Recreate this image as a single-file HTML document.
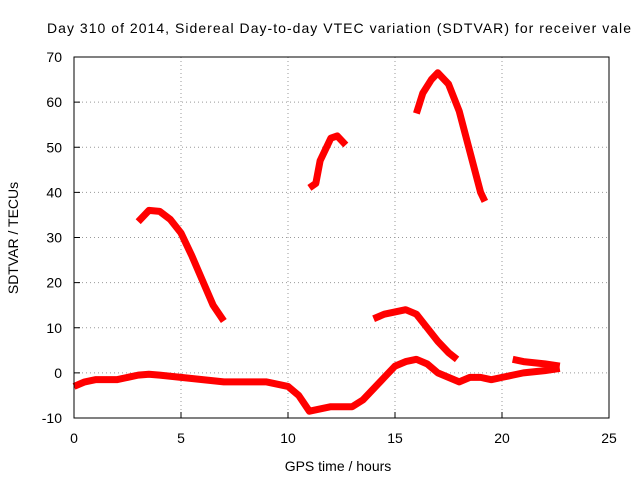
<!DOCTYPE html>
<html><head><meta charset="utf-8"><style>
body{margin:0;background:#fff}
svg{display:block;font-family:"Liberation Sans",sans-serif}
</style></head><body>
<svg id="chart" width="640" height="480">
<text x="47" y="33" font-size="14" textLength="584" lengthAdjust="spacing">Day 310 of 2014, Sidereal Day-to-day VTEC variation (SDTVAR) for receiver vale</text>
<text x="338" y="471" font-size="14" text-anchor="middle">GPS time / hours</text>
<text transform="translate(18,238) rotate(-90)" font-size="14" text-anchor="middle">SDTVAR / TECUs</text>
<g id="grid"></g><g id="series"></g>
<rect x="74" y="57" width="535" height="361" fill="none" stroke="#000" stroke-width="1"/>
</svg>
<script>
const xTicks=[0,5,10,15,20,25];
const yTicks=[-10,0,10,20,30,40,50,60,70];
const seg1x=[3,3.5,4,4.5,5,5.5,6,6.5,7];
const seg1y=[33.5,36,35.8,34,31,26,20.5,15,11.5];
const seg2x=[11,11.3,11.5,12,12.3,12.7];
const seg2y=[41,42,47,52,52.5,50.5];
const seg3x=[16,16.3,16.7,17,17.5,18,18.5,19,19.2];
const seg3y=[57.5,62,65,66.5,64,58,49,40,38];
const seg4x=[14,14.5,15,15.5,16,16.5,17,17.5,17.9];
const seg4y=[12,13,13.5,14,13,10,7,4.5,3];
const seg5x=[0,0.5,1,2,3,3.5,4,5,6,7,8,9,10,10.5,11,11.5,12,13,13.5,14,14.5,15,15.5,16,16.5,17,17.5,18,18.5,19,19.5,20,20.5,21,22,22.7];
const seg5y=[-3,-2,-1.5,-1.5,-0.5,-0.3,-0.5,-1,-1.5,-2,-2,-2,-3,-5,-8.5,-8,-7.5,-7.5,-6,-3.5,-1,1.5,2.5,3,2,0,-1,-2,-1,-1,-1.5,-1,-0.5,0,0.5,1];
const seg6x=[20.5,21,22,22.7];
const seg6y=[3,2.5,2,1.5];
const NS="http://www.w3.org/2000/svg";
const X=v=>74+v*(535/25), Y=v=>418-(v+10)*(361/80);
const grid=document.getElementById('grid'), ser=document.getElementById('series'), svg=document.getElementById('chart');
function mk(t,a,p){const e=document.createElementNS(NS,t);for(const k in a)e.setAttribute(k,a[k]);p.appendChild(e);return e;}
xTicks.forEach(t=>{
 if(t>0&&t<25){const l=mk('line',{x1:X(t),x2:X(t),y1:57,y2:418,stroke:'#999','stroke-dasharray':'1,3'},grid);
 
 }
 const tx=mk('text',{x:X(t),y:443,'font-size':14,'text-anchor':'middle'},svg);tx.textContent=t;
 
 
 mk('line',{x1:X(t),x2:X(t),y1:418,y2:412,stroke:'#000'},svg);
});
yTicks.forEach(t=>{
 if(t>-10&&t<70){const l=mk('line',{x1:74,x2:609,y1:Y(t),y2:Y(t),stroke:'#999','stroke-dasharray':'1,3'},grid);
 
 }
 const tx=mk('text',{x:62,y:Y(t)+5,'font-size':14,'text-anchor':'end'},svg);tx.textContent=t;
 
 
 mk('line',{x1:74,x2:80,y1:Y(t),y2:Y(t),stroke:'#000'},svg);
});
[[seg1x,seg1y],[seg2x,seg2y],[seg3x,seg3y],[seg4x,seg4y],[seg5x,seg5y],[seg6x,seg6y]].forEach((s,i)=>{
 const pts=s[0].map((x,j)=>X(x)+','+Y(s[1][j])).join(' ');
 const p=mk('polyline',{points:pts,fill:'none',stroke:'#f00','stroke-width':7,'stroke-linejoin':'round','stroke-linecap':'butt'},ser);
 
 
});
</script>
</body></html>
